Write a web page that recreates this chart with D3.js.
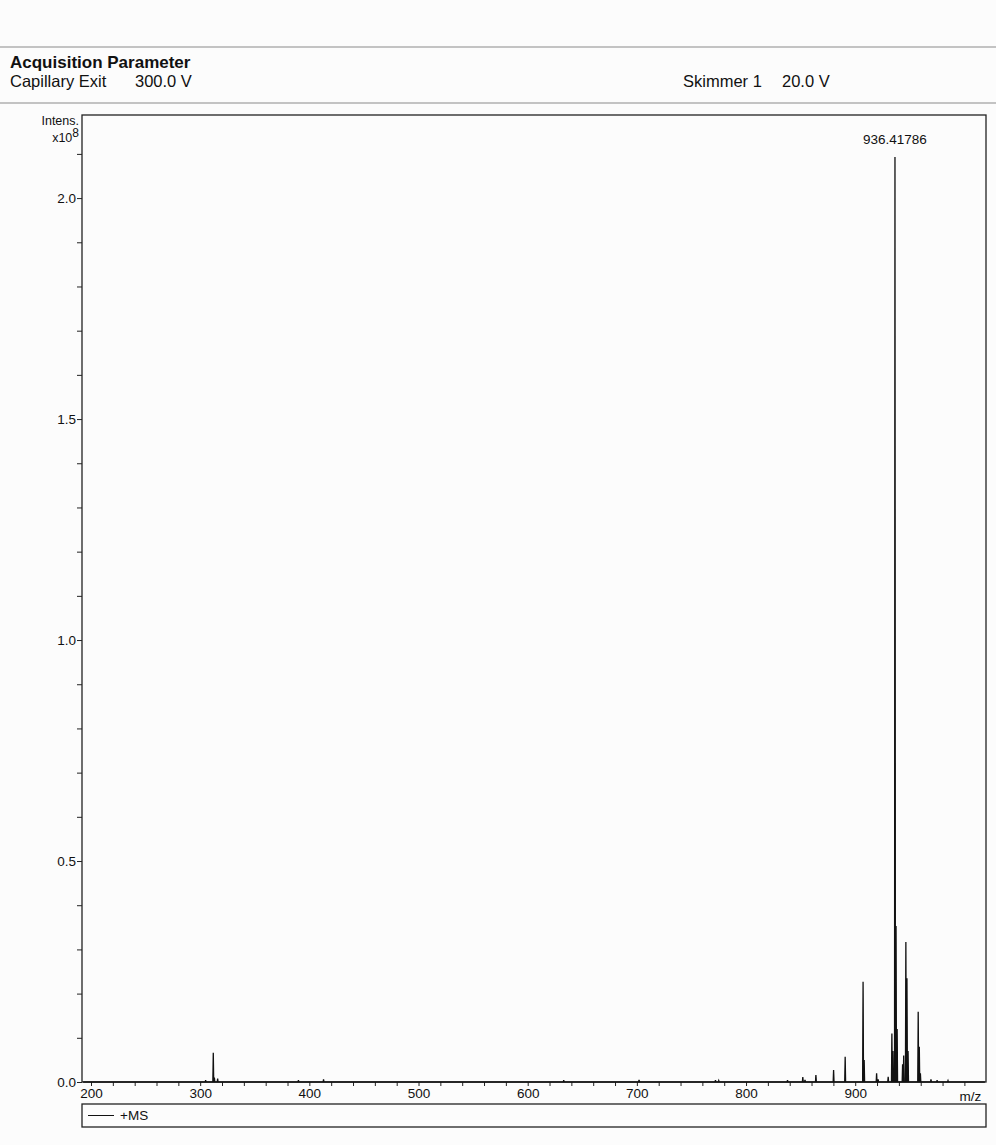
<!DOCTYPE html>
<html>
<head>
<meta charset="utf-8">
<script src="https://cdn.jsdelivr.net/npm/d3@7"></script>
<style>
  body { margin: 0; background: #fcfcfc; }
  svg { display: block; }
  text { font-family: "Liberation Sans", Arial, sans-serif; fill: #111; }
</style>
</head>
<body>
<script>
// peak list (m/z, intensity in 1e8 units)
var peakMz = [305, 312.0, 313.0, 316, 390, 413, 633, 702, 772, 775, 838, 852, 854, 864, 880.2, 890.8,
              907.2, 908.2, 919.6, 921, 930.2, 933.6, 934.6, 936.42, 937.4, 938.4, 943.4, 944.4,
              946.4, 947.4, 948.4, 957.7, 958.7, 959.7, 969.4, 975, 985];
var peakIntens = [0.004, 0.066, 0.01, 0.008, 0.004, 0.006, 0.004, 0.005, 0.004, 0.003, 0.004, 0.011, 0.005, 0.016, 0.027, 0.057,
                  0.227, 0.05, 0.02, 0.006, 0.012, 0.11, 0.07, 2.093, 0.353, 0.12, 0.04, 0.06,
                  0.317, 0.235, 0.07, 0.159, 0.08, 0.02, 0.006, 0.004, 0.003];
var yLabelTicks = [0.0, 0.5, 1.0, 1.5, 2.0];
var xLabelTicks = [200, 300, 400, 500, 600, 700, 800, 900];
var peakLabel = {mz: 936.42, text: "936.41786"};

var W = 996, H = 1145;
var plotL = 82, plotR = 986, plotT = 115, plotB = 1082;
var FS = 13.5;

var svg = d3.select("body").append("svg")
    .attr("width", W)
    .attr("height", H);

svg.append("rect").attr("width", W).attr("height", H).attr("fill", "#fcfcfc");

// header
svg.append("line").attr("x1", 0).attr("x2", W).attr("y1", 47).attr("y2", 47)
    .attr("stroke", "#8a8a8a").attr("stroke-width", 1);
svg.append("line").attr("x1", 0).attr("x2", W).attr("y1", 103).attr("y2", 103)
    .attr("stroke", "#8a8a8a").attr("stroke-width", 1);
svg.append("text").attr("x", 10).attr("y", 68)
    .attr("font-size", 17).attr("font-weight", "bold")
    .text("Acquisition Parameter");
svg.append("text").attr("x", 10).attr("y", 87).attr("font-size", 16.5).text("Capillary Exit");
svg.append("text").attr("x", 135).attr("y", 87).attr("font-size", 16.5).text("300.0 V");
svg.append("text").attr("x", 683).attr("y", 87).attr("font-size", 16.5).text("Skimmer 1");
svg.append("text").attr("x", 782).attr("y", 87).attr("font-size", 16.5).text("20.0 V");

var x = d3.scaleLinear().domain([191.75, 1019.8]).range([plotL, plotR]);
var y = d3.scaleLinear().domain([0, 2.188]).range([plotB, plotT]);

// frame
svg.append("rect")
    .attr("x", plotL).attr("y", plotT)
    .attr("width", plotR - plotL).attr("height", plotB - plotT)
    .attr("fill", "none").attr("stroke", "#222").attr("stroke-width", 1.3);

// y axis
var yAxis = d3.axisLeft(y)
    .tickValues(d3.range(0, 22).map(function(i){ return i / 10; }))
    .tickSize(5)
    .tickFormat(function(d){
        var hit = yLabelTicks.some(function(v){ return Math.abs(v - d) < 1e-6; });
        return hit ? d.toFixed(1) : "";
    });
var gy = svg.append("g").attr("transform", "translate(" + plotL + ",0)").call(yAxis);
gy.select(".domain").remove();
gy.selectAll("line").attr("stroke", "#222");
gy.selectAll("text").attr("font-size", FS).attr("font-family", "Liberation Sans, Arial, sans-serif").attr("fill", "#111").attr("x", -6);

svg.append("text").attr("x", 79).attr("y", 125).attr("text-anchor", "end").attr("font-size", 12.5).text("Intens.");
var xl = svg.append("text").attr("x", 79).attr("y", 142).attr("text-anchor", "end").attr("font-size", 12.5);
xl.append("tspan").text("x10");
xl.append("tspan").attr("dy", -5).attr("font-size", 12).text("8");

// x axis
var xAxis = d3.axisBottom(x)
    .tickValues(d3.range(200, 1001, 20))
    .tickSize(4)
    .tickFormat(function(d){ return xLabelTicks.indexOf(d) >= 0 ? d : ""; });
var gx = svg.append("g").attr("transform", "translate(0," + plotB + ")").call(xAxis);
gx.select(".domain").remove();
gx.selectAll("line").attr("stroke", "#222");
gx.selectAll("text").attr("font-size", FS).attr("font-family", "Liberation Sans, Arial, sans-serif").attr("fill", "#111").attr("y", 6).attr("dy", "0.75em");
svg.append("text").attr("x", x(1000) + 6).attr("y", plotB + 19).attr("text-anchor", "middle")
    .attr("font-size", FS).text("m/z");

// spectrum as a profile through the peak list
var halfW = 0.4;
var pts = [[x.domain()[0] + 1, 0]];
peakMz.forEach(function(m, i){
    pts.push([m - halfW, 0]);
    pts.push([m, peakIntens[i]]);
    pts.push([m + halfW, 0]);
});
pts.push([x.domain()[1] - 1, 0]);

var line = d3.line()
    .x(function(d){ return x(d[0]); })
    .y(function(d){ return y(d[1]); });

svg.append("path")
    .datum(pts)
    .attr("d", line)
    .attr("fill", "#111")
    .attr("stroke", "#111")
    .attr("stroke-width", 1.3)
    .attr("stroke-linejoin", "miter");

var topIdx = peakMz.indexOf(peakLabel.mz);
svg.append("text")
    .attr("x", x(peakLabel.mz))
    .attr("y", y(peakIntens[topIdx]) - 13)
    .attr("text-anchor", "middle")
    .attr("font-size", FS)
    .text(peakLabel.text);

// legend box
svg.append("rect")
    .attr("x", plotL).attr("y", 1104)
    .attr("width", plotR - plotL).attr("height", 23)
    .attr("fill", "none").attr("stroke", "#222").attr("stroke-width", 1.3);
svg.append("line").attr("x1", 88).attr("x2", 114).attr("y1", 1115.5).attr("y2", 1115.5)
    .attr("stroke", "#111").attr("stroke-width", 1);
svg.append("text").attr("x", 120).attr("y", 1120).attr("font-size", FS).text("+MS");
</script>
</body>
</html>
